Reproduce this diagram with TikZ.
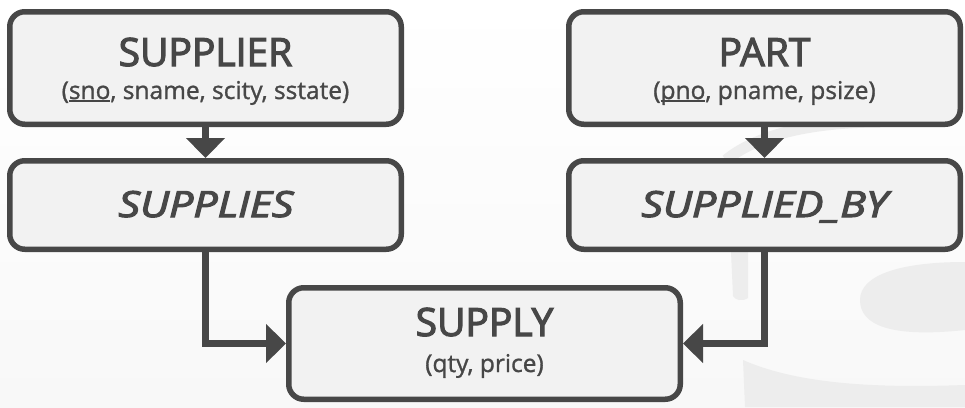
\documentclass[tikz,border=0pt]{standalone}
\usepackage{fontspec}
\usepackage{graphicx}
\setmainfont{Open Sans}
\newfontfamily\titlefont{Open Sans}[FakeBold=3]
\newfontfamily\attrfont{Open Sans}[FakeBold=1.2]
\usetikzlibrary{arrows.meta}
\definecolor{ink}{HTML}{474747}
\definecolor{boxfill}{HTML}{F2F2F2}
\definecolor{wm}{HTML}{EDEDED}
\definecolor{bgbottom}{HTML}{F8F8F8}
\newcommand\keyul[1]{\setbox0\hbox{#1}\rlap{\rule[-2.6pt]{\wd0}{1.3pt}}\box0}
\newcommand\widen[1]{\scalebox{1.19}[1]{#1}}
\begin{document}
\begin{tikzpicture}[x=1pt,y=-1pt,
  entity/.style={draw=ink, line width=5.5pt, fill=boxfill, rounded corners=15pt,
    minimum width=391.5pt, inner sep=0pt},
  entname/.style={text=ink, font=\titlefont\fontsize{39}{41}\selectfont, anchor=base, inner sep=0pt},
  relname/.style={text=ink, font=\titlefont\fontsize{36}{38}\selectfont\itshape, anchor=base, inner sep=0pt},
  attrs/.style={text=ink, font=\attrfont\fontsize{24.5}{26}\selectfont, anchor=base, inner sep=0pt},
  link/.style={draw=ink, line width=7pt, -{Triangle[length=20pt,width=38pt]}}]
\useasboundingbox (0,0) rectangle (965,407);
\shade[top color=white, bottom color=bgbottom] (0,0) rectangle (965,407);
% faint watermark
\draw[wm, line width=11pt] (726,160) .. controls (760,132) and (820,122) .. (880,122);
\fill[wm] (731,252) -- (748,252) -- (748,298) .. controls (742,302) and (735,300) .. (733,296) -- cycle;
\fill[wm] (965,262) .. controls (900,262) and (860,275) .. (860,300) .. controls (860,325) and (890,338) .. (965,330) -- cycle;
\fill[wm] (743,360) .. controls (800,385) and (880,388) .. (965,385) -- (965,407) -- (745,407) -- cycle;
% boxes
\node[entity, minimum height=112.5pt] (supplier) at (205.5,68) {};
\node[entity, minimum height=88.5pt] (supplies) at (205.5,205) {};
\node[entity, minimum height=112.5pt] (part) at (764.5,68) {};
\node[entity, minimum height=88.5pt] (suppliedby) at (764.5,205) {};
\node[entity, minimum height=111.5pt] (supply) at (484.5,343.5) {};
% texts
\node[entname] (supplierT) at (205.5,66) {SUPPLIER};
\node[attrs] (supplierA) at (205.5,99) {(\keyul{sno}, sname, scity, sstate)};
\node[relname] (suppliesT) at (206,217) {\widen{SUPPLIES}};
\node[entname] (partT) at (764.5,66) {PART};
\node[attrs] (partA) at (764.5,99) {(\keyul{pno}, pname, psize)};
\node[relname] (suppliedbyT) at (764.5,217) {\widen{SUPPLIED\_BY}};
\node[entname] (supplyT) at (484.5,336) {SUPPLY};
\node[attrs] (supplyA) at (484.5,372) {(qty, price)};
% connectors
\draw[link] (supplier.south) -- (supplies.north);
\draw[link] (part.south) -- (suppliedby.north);
\draw[link] (supplies.south) |- (supply.west);
\draw[link] (suppliedby.south) |- (supply.east);
\end{tikzpicture}
\end{document}
